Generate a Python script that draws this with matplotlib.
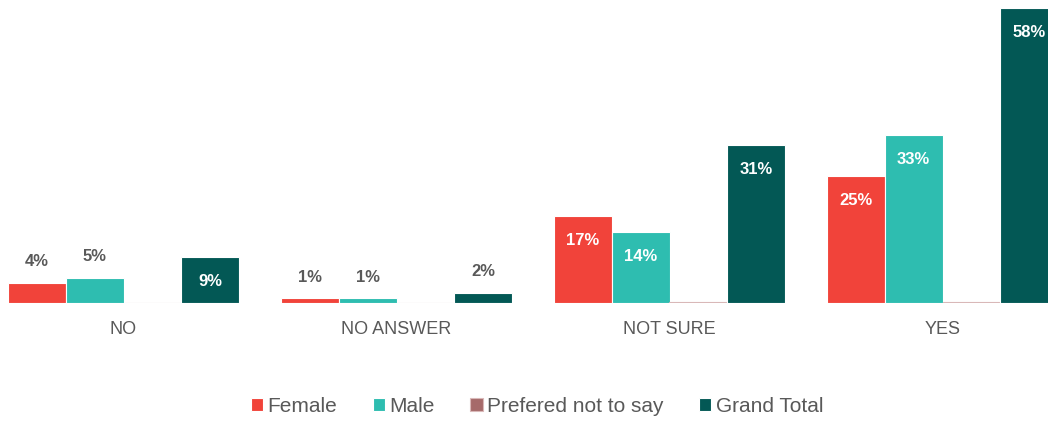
import numpy as np
import matplotlib.pyplot as plt

plt.rcParams['font.family'] = ['Liberation Sans', 'DejaVu Sans']

categories = ['NO', 'NO ANSWER', 'NOT SURE', 'YES']
series = ['Female', 'Male', 'Prefered not to say', 'Grand Total']
female = [4, 1, 17, 25]
male = [5, 1, 14, 33]
prefered = [0, 0, 0.2, 0.2]
grand_total = [9, 2, 31, 58]

colors = ['#F1433A', '#2EBDB0', '#A66A6A', '#035855']
values = [female, male, prefered, grand_total]

fig = plt.figure(figsize=(10.48, 4.22), dpi=100)
ax = fig.add_axes([0, 1 - 303 / 422, 1, 303 / 422])

x = np.arange(len(categories))
w = 0.212
offsets = (np.arange(4) - 1.5) * w

for i, (name, vals, col) in enumerate(zip(series, values, colors)):
    edge = '#D9B8B8' if i == 2 else 'white'
    bars = ax.bar(x + offsets[i], vals, w, color=col, edgecolor=edge,
                  linewidth=0.8, label=name)
    if i == 2:
        continue
    for b, v in zip(bars, vals):
        cx = b.get_x() + b.get_width() / 2
        if v >= 7:
            # big bars: white label inside, near the top
            ax.annotate(f'{v}%', (cx, v), xytext=(0, -17.5), textcoords='offset points',
                        ha='center', va='center', color='white', fontsize=12,
                        fontweight='bold')
        else:
            ax.annotate(f'{v}%', (cx, v), xytext=(0, 15), textcoords='offset points',
                        ha='center', va='center', color='#595959', fontsize=12,
                        fontweight='bold')

ax.set_xlim(-123.5 / 273, (1048 - 123.5) / 273)
ax.set_ylim(0, 303 / 5.09)
ax.set_xticks(x)
ax.set_xticklabels(categories, fontsize=13, color='#595959')
ax.tick_params(axis='x', length=0, pad=13)
ax.set_yticks([])
for s in ax.spines.values():
    s.set_visible(False)

fig.legend(loc='center', bbox_to_anchor=(537 / 1048, 1 - 406 / 422), ncol=4,
           frameon=False, fontsize=15, handlelength=0.6, handleheight=0.6,
           handletextpad=0.2, columnspacing=1.7, labelcolor='#595959')

fig.savefig('out.png', dpi=100)
